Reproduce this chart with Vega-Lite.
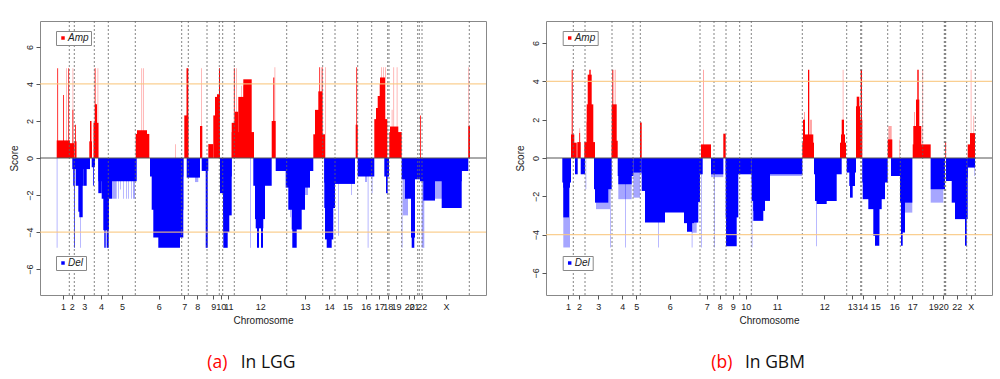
{
"$schema": "https://vega.github.io/schema/vega-lite/v6.json",
"padding": {"left": 8, "top": 20, "right": 0, "bottom": 0},
"config": {
 "font": "Liberation Sans",
 "view": {"stroke": "#888", "strokeWidth": 1},
 "axis": {"labelFont": "Liberation Sans", "labelFontSize": 9, "labelColor": "#222", "titleFont": "Liberation Sans", "titleFontSize": 10, "titleFontWeight": "normal", "titleColor": "#222", "tickColor": "#555", "domain": false, "grid": false},
 "axisX": {"labelOverlap": false},
 "legend": {"strokeColor": "#888", "padding": 2, "labelFont": "Liberation Sans", "labelFontSize": 10, "labelFontStyle": "italic", "labelColor": "#222", "symbolType": "square", "symbolSize": 12, "symbolStrokeWidth": 0, "labelOffset": 0, "fillColor": "white"}
},
"datasets": {
 "A": [
  {"k":"Amp","s":0,"a":26,"b":26.8,"v":4.85},{"k":"Amp","s":0,"a":32.5,"b":33.3,"v":4.85},{"k":"Amp","s":0,"a":57.5,"b":58.3,"v":4.85},{"k":"Amp","s":0,"a":101.3,"b":102.1,"v":4.85},{"k":"Amp","s":0,"a":103,"b":103.8,"v":4.85},{"k":"Amp","s":0,"a":135,"b":135.8,"v":0.74},{"k":"Amp","s":0,"a":161,"b":161.8,"v":4.85},{"k":"Amp","s":0,"a":196,"b":196.8,"v":4.85},{"k":"Amp","s":0,"a":201,"b":201.8,"v":3.9},{"k":"Amp","s":0,"a":203,"b":203.8,"v":3.9},{"k":"Amp","s":0,"a":205.5,"b":206.3,"v":4.2},{"k":"Amp","s":0,"a":234.5,"b":235.3,"v":4.9},{"k":"Amp","s":0,"a":285,"b":285.8,"v":4.9},{"k":"Amp","s":0,"a":339,"b":339.8,"v":4.0},{"k":"Amp","s":0,"a":341,"b":341.8,"v":4.9},{"k":"Amp","s":0,"a":343,"b":343.8,"v":4.9},{"k":"Amp","s":0,"a":345,"b":345.8,"v":4.9},{"k":"Amp","s":0,"a":351.7,"b":352.5,"v":2.6},{"k":"Amp","s":0,"a":353.3,"b":354.1,"v":4.9},{"k":"Amp","s":0,"a":356.7,"b":357.5,"v":4.9},{"k":"Amp","s":0,"a":428.3,"b":429.1,"v":4.9},
  {"k":"Amp","s":1,"a":16.7,"b":30,"v":0.95},{"k":"Amp","s":1,"a":17.3,"b":18.1,"v":4.85},{"k":"Amp","s":1,"a":23,"b":23.8,"v":3.4},{"k":"Amp","s":1,"a":28.3,"b":29.1,"v":4.85},{"k":"Amp","s":1,"a":30,"b":34.3,"v":0.8},{"k":"Amp","s":1,"a":32.5,"b":33.3,"v":2.6},{"k":"Amp","s":1,"a":34.5,"b":36.5,"v":0.9},{"k":"Amp","s":1,"a":35.2,"b":36,"v":1.8},{"k":"Amp","s":1,"a":49.3,"b":52,"v":0.9},{"k":"Amp","s":1,"a":50,"b":51.5,"v":2.0},{"k":"Amp","s":1,"a":53.5,"b":58.5,"v":1.9},{"k":"Amp","s":1,"a":55,"b":57,"v":2.9},{"k":"Amp","s":1,"a":54.7,"b":55.5,"v":4.85},{"k":"Amp","s":1,"a":95.7,"b":109.3,"v":1.3},{"k":"Amp","s":1,"a":97,"b":107,"v":1.5},{"k":"Amp","s":1,"a":144.3,"b":148.3,"v":2.3},{"k":"Amp","s":1,"a":146.5,"b":148.3,"v":4.85},{"k":"Amp","s":1,"a":160,"b":162.3,"v":1.73},{"k":"Amp","s":1,"a":168.3,"b":173.3,"v":0.75},{"k":"Amp","s":1,"a":173.3,"b":180,"v":2.3},{"k":"Amp","s":1,"a":175,"b":180,"v":3.3},{"k":"Amp","s":1,"a":177,"b":179,"v":3.45},{"k":"Amp","s":1,"a":179,"b":180,"v":4.85},{"k":"Amp","s":1,"a":191.7,"b":214,"v":1.4},{"k":"Amp","s":1,"a":191.7,"b":195,"v":1.9},{"k":"Amp","s":1,"a":195,"b":198.3,"v":2.5},{"k":"Amp","s":1,"a":198.3,"b":206.7,"v":3.3},{"k":"Amp","s":1,"a":203.3,"b":211.7,"v":4.25},{"k":"Amp","s":1,"a":193.9,"b":194.7,"v":4.85},{"k":"Amp","s":1,"a":231.7,"b":235.7,"v":2.0},{"k":"Amp","s":1,"a":233.3,"b":234.3,"v":4.35},{"k":"Amp","s":1,"a":273.3,"b":285,"v":1.28},{"k":"Amp","s":1,"a":275,"b":281.7,"v":2.6},{"k":"Amp","s":1,"a":278.3,"b":282.3,"v":3.6},{"k":"Amp","s":1,"a":279.3,"b":280.1,"v":4.9},{"k":"Amp","s":1,"a":281.7,"b":282.5,"v":4.9},{"k":"Amp","s":1,"a":315.7,"b":317.7,"v":1.8},{"k":"Amp","s":1,"a":316.3,"b":317.1,"v":4.9},{"k":"Amp","s":1,"a":334.3,"b":347.3,"v":2.1},{"k":"Amp","s":1,"a":336,"b":345,"v":2.7},{"k":"Amp","s":1,"a":337.7,"b":345,"v":3.35},{"k":"Amp","s":1,"a":340,"b":345,"v":4.35},{"k":"Amp","s":1,"a":349.3,"b":361.7,"v":1.4},{"k":"Amp","s":1,"a":350,"b":358.3,"v":1.7},{"k":"Amp","s":1,"a":380,"b":380.8,"v":2.3},{"k":"Amp","s":1,"a":428.3,"b":430,"v":1.73},
  {"k":"Del","s":1,"a":32.3,"b":50,"v":-0.6},{"k":"Del","s":1,"a":33,"b":33.8,"v":-1.5},{"k":"Del","s":1,"a":34.3,"b":35,"v":-4.85},{"k":"Del","s":1,"a":35.7,"b":43.3,"v":-1.5},{"k":"Del","s":1,"a":38.3,"b":41.7,"v":-2.9},{"k":"Del","s":1,"a":39.3,"b":42.7,"v":-3.2},{"k":"Del","s":1,"a":43.3,"b":46.7,"v":-1.5},{"k":"Del","s":1,"a":51.7,"b":55,"v":-0.5},{"k":"Del","s":1,"a":53,"b":53.8,"v":-1.5},{"k":"Del","s":1,"a":58.3,"b":96.7,"v":-1.25},{"k":"Del","s":1,"a":58.3,"b":61.7,"v":-1.9},{"k":"Del","s":1,"a":61.7,"b":69,"v":-2.2},{"k":"Del","s":1,"a":63.3,"b":69,"v":-3.9},{"k":"Del","s":1,"a":64.3,"b":65.7,"v":-4.85},{"k":"Del","s":1,"a":66.7,"b":68.7,"v":-4.85},{"k":"Del","s":1,"a":69,"b":72,"v":-2.2},{"k":"Del","s":1,"a":110,"b":143.3,"v":-1.0},{"k":"Del","s":1,"a":111.7,"b":143.3,"v":-2.8},{"k":"Del","s":1,"a":113.3,"b":143.3,"v":-4.3},{"k":"Del","s":1,"a":118.3,"b":140,"v":-4.85},{"k":"Del","s":1,"a":146.7,"b":160,"v":-1.06},{"k":"Del","s":1,"a":161.7,"b":168.3,"v":-0.7},{"k":"Del","s":1,"a":165.7,"b":167.7,"v":-4.85},{"k":"Del","s":1,"a":180,"b":191.7,"v":-1.0},{"k":"Del","s":1,"a":180,"b":183.3,"v":-1.9},{"k":"Del","s":1,"a":183.3,"b":191.7,"v":-3.1},{"k":"Del","s":1,"a":183.3,"b":189.3,"v":-4.0},{"k":"Del","s":1,"a":183.3,"b":187.7,"v":-4.85},{"k":"Del","s":1,"a":213.3,"b":231.7,"v":-1.5},{"k":"Del","s":1,"a":215,"b":225,"v":-3.3},{"k":"Del","s":1,"a":215.7,"b":223.3,"v":-3.8},{"k":"Del","s":1,"a":217,"b":219,"v":-4.85},{"k":"Del","s":1,"a":221,"b":223,"v":-4.85},{"k":"Del","s":1,"a":235.7,"b":273.3,"v":-0.7},{"k":"Del","s":1,"a":245.7,"b":270,"v":-1.6},{"k":"Del","s":1,"a":248.3,"b":265,"v":-2.8},{"k":"Del","s":1,"a":251.7,"b":261.7,"v":-3.86},{"k":"Del","s":1,"a":252.3,"b":256.7,"v":-4.85},{"k":"Del","s":1,"a":284.3,"b":300,"v":-1.33},{"k":"Del","s":1,"a":284.3,"b":295,"v":-2.7},{"k":"Del","s":1,"a":285,"b":293.3,"v":-4.4},{"k":"Del","s":1,"a":286.7,"b":291.7,"v":-4.85},{"k":"Del","s":1,"a":295,"b":315,"v":-1.4},{"k":"Del","s":1,"a":317.7,"b":334.3,"v":-1.0},{"k":"Del","s":1,"a":344.3,"b":349,"v":-1.0},{"k":"Del","s":1,"a":346,"b":347.7,"v":-1.9},{"k":"Del","s":1,"a":361.7,"b":380,"v":-1.15},{"k":"Del","s":1,"a":365,"b":375,"v":-2.2},{"k":"Del","s":1,"a":371,"b":375,"v":-4.3},{"k":"Del","s":1,"a":371.7,"b":374.3,"v":-4.85},{"k":"Del","s":1,"a":380,"b":428.3,"v":-0.7},{"k":"Del","s":1,"a":380,"b":421.7,"v":-1.25},{"k":"Del","s":1,"a":383.3,"b":395,"v":-2.3},{"k":"Del","s":1,"a":401.7,"b":421.7,"v":-2.7},
  {"k":"Del","s":0,"a":16.7,"b":17.5,"v":-4.85},{"k":"Del","s":0,"a":40,"b":40.8,"v":-4.85},{"k":"Del","s":0,"a":72,"b":76.7,"v":-2.2},{"k":"Del","s":0,"a":78,"b":78.8,"v":-2.2},{"k":"Del","s":0,"a":80,"b":80.8,"v":-1.7},{"k":"Del","s":0,"a":83,"b":83.8,"v":-2.2},{"k":"Del","s":0,"a":86,"b":86.8,"v":-2.2},{"k":"Del","s":0,"a":88,"b":88.8,"v":-2.2},{"k":"Del","s":0,"a":91,"b":91.8,"v":-2.2},{"k":"Del","s":0,"a":93,"b":95,"v":-2.2},{"k":"Del","s":0,"a":155,"b":158.3,"v":-1.3},{"k":"Del","s":0,"a":210,"b":210.8,"v":-4.85},{"k":"Del","s":0,"a":250,"b":250.8,"v":-3.2},{"k":"Del","s":0,"a":262,"b":268,"v":-2.0},{"k":"Del","s":0,"a":298,"b":298.8,"v":-4.2},{"k":"Del","s":0,"a":311,"b":311.8,"v":-2.0},{"k":"Del","s":0,"a":325,"b":327,"v":-1.3},{"k":"Del","s":0,"a":327.7,"b":328.5,"v":-4.85},{"k":"Del","s":0,"a":331.7,"b":332.5,"v":-1.9},{"k":"Del","s":0,"a":363,"b":368,"v":-3.1},{"k":"Del","s":0,"a":361.7,"b":362.5,"v":-4.85},{"k":"Del","s":0,"a":381.7,"b":384.3,"v":-4.85},{"k":"Del","s":0,"a":395,"b":405,"v":-2.2}
 ],
 "B": [
  {"k":"Amp","s":0,"a":33.3,"b":34.1,"v":1.55},{"k":"Amp","s":0,"a":68.7,"b":69.7,"v":4.6},{"k":"Amp","s":0,"a":157,"b":158,"v":4.6},{"k":"Amp","s":0,"a":258,"b":259,"v":2.4},{"k":"Amp","s":0,"a":264,"b":266,"v":2.0},{"k":"Amp","s":0,"a":296.7,"b":297.5,"v":4.6},{"k":"Amp","s":0,"a":342.3,"b":345.7,"v":1.67},{"k":"Amp","s":0,"a":353.3,"b":354.1,"v":0.97},{"k":"Amp","s":0,"a":376.3,"b":377.1,"v":4.6},{"k":"Amp","s":0,"a":368,"b":369,"v":2.4},{"k":"Amp","s":0,"a":427.3,"b":428.1,"v":2.2},{"k":"Amp","s":0,"a":424.7,"b":425.5,"v":4.6},
  {"k":"Amp","s":1,"a":25,"b":30.7,"v":0.8},{"k":"Amp","s":1,"a":25,"b":28.3,"v":1.23},{"k":"Amp","s":1,"a":25.7,"b":26.7,"v":4.6},{"k":"Amp","s":1,"a":31.3,"b":34.7,"v":0.83},{"k":"Amp","s":1,"a":33.3,"b":34.1,"v":1.3},{"k":"Amp","s":1,"a":38.3,"b":49,"v":0.83},{"k":"Amp","s":1,"a":40.7,"b":45.7,"v":1.9},{"k":"Amp","s":1,"a":40.7,"b":47.3,"v":2.8},{"k":"Amp","s":1,"a":41.7,"b":45.7,"v":4.35},{"k":"Amp","s":1,"a":43.3,"b":44.7,"v":4.6},{"k":"Amp","s":1,"a":65.7,"b":71.7,"v":0.9},{"k":"Amp","s":1,"a":65.7,"b":70.7,"v":2.8},{"k":"Amp","s":1,"a":66.3,"b":67.3,"v":4.6},{"k":"Amp","s":1,"a":94,"b":95.7,"v":1.85},{"k":"Amp","s":1,"a":155,"b":165,"v":0.71},{"k":"Amp","s":1,"a":177.3,"b":179.7,"v":1.27},{"k":"Amp","s":1,"a":256.3,"b":268,"v":0.8},{"k":"Amp","s":1,"a":257.3,"b":267.3,"v":1.23},{"k":"Amp","s":1,"a":257,"b":259,"v":2.0},{"k":"Amp","s":1,"a":262,"b":263.3,"v":4.6},{"k":"Amp","s":1,"a":294,"b":300,"v":0.8},{"k":"Amp","s":1,"a":295,"b":299,"v":1.23},{"k":"Amp","s":1,"a":295.7,"b":298,"v":2.0},{"k":"Amp","s":1,"a":310,"b":316.3,"v":2.0},{"k":"Amp","s":1,"a":310,"b":314,"v":2.7},{"k":"Amp","s":1,"a":310.7,"b":313.3,"v":3.2},{"k":"Amp","s":1,"a":314.7,"b":316,"v":4.6},{"k":"Amp","s":1,"a":341.7,"b":346.3,"v":0.97},{"k":"Amp","s":1,"a":366.7,"b":384.7,"v":0.71},{"k":"Amp","s":1,"a":367.3,"b":375.3,"v":1.67},{"k":"Amp","s":1,"a":370,"b":373.3,"v":3.05},{"k":"Amp","s":1,"a":371.3,"b":372.7,"v":4.6},{"k":"Amp","s":1,"a":399.3,"b":400.1,"v":0.83},{"k":"Amp","s":1,"a":421.7,"b":429,"v":0.71},{"k":"Amp","s":1,"a":424,"b":429,"v":1.3},
  {"k":"Del","s":1,"a":16.3,"b":25,"v":-1.28},{"k":"Del","s":1,"a":17.3,"b":24,"v":-1.55},{"k":"Del","s":1,"a":17.3,"b":23,"v":-3.1},{"k":"Del","s":1,"a":29,"b":31.7,"v":-0.85},{"k":"Del","s":1,"a":34.7,"b":39,"v":-0.85},{"k":"Del","s":1,"a":48,"b":65.7,"v":-1.63},{"k":"Del","s":1,"a":49,"b":62.3,"v":-2.33},{"k":"Del","s":1,"a":71.7,"b":87.3,"v":-0.94},{"k":"Del","s":1,"a":72.3,"b":85.7,"v":-1.37},{"k":"Del","s":1,"a":87.3,"b":95.7,"v":-0.76},{"k":"Del","s":1,"a":95.7,"b":149,"v":-0.85},{"k":"Del","s":1,"a":95.7,"b":99,"v":-1.72},{"k":"Del","s":1,"a":99,"b":149,"v":-2.24},{"k":"Del","s":1,"a":99,"b":119,"v":-3.37},{"k":"Del","s":1,"a":119,"b":149,"v":-2.85},{"k":"Del","s":1,"a":138,"b":148,"v":-3.4},{"k":"Del","s":1,"a":141,"b":146,"v":-3.85},{"k":"Del","s":1,"a":144,"b":156.7,"v":-0.85},{"k":"Del","s":1,"a":144,"b":154,"v":-2.3},{"k":"Del","s":1,"a":144,"b":152.3,"v":-3.37},{"k":"Del","s":1,"a":165,"b":177.3,"v":-0.85},{"k":"Del","s":1,"a":179.7,"b":205.7,"v":-0.85},{"k":"Del","s":1,"a":179.7,"b":192.3,"v":-3.1},{"k":"Del","s":1,"a":180,"b":190.7,"v":-4.6},{"k":"Del","s":1,"a":205.7,"b":256.3,"v":-0.85},{"k":"Del","s":1,"a":205.7,"b":224,"v":-1.2},{"k":"Del","s":1,"a":205.7,"b":224,"v":-2.24},{"k":"Del","s":1,"a":207.3,"b":219,"v":-2.76},{"k":"Del","s":1,"a":207.3,"b":217.3,"v":-3.28},{"k":"Del","s":1,"a":268,"b":295.7,"v":-0.85},{"k":"Del","s":1,"a":269,"b":290.7,"v":-2.24},{"k":"Del","s":1,"a":270.7,"b":280.7,"v":-2.4},{"k":"Del","s":1,"a":300.7,"b":310,"v":-0.76},{"k":"Del","s":1,"a":303.3,"b":309,"v":-1.46},{"k":"Del","s":1,"a":304,"b":306.7,"v":-2.07},{"k":"Del","s":1,"a":316.3,"b":341.7,"v":-1.28},{"k":"Del","s":1,"a":316.7,"b":339,"v":-2.15},{"k":"Del","s":1,"a":322.3,"b":335.7,"v":-2.67},{"k":"Del","s":1,"a":327.3,"b":333.3,"v":-4.06},{"k":"Del","s":1,"a":329,"b":333.3,"v":-4.58},{"k":"Del","s":1,"a":345,"b":354,"v":-0.94},{"k":"Del","s":1,"a":354,"b":366.3,"v":-2.33},{"k":"Del","s":1,"a":355,"b":359,"v":-3.89},{"k":"Del","s":1,"a":355,"b":356.7,"v":-4.58},{"k":"Del","s":1,"a":384.7,"b":399,"v":-1.63},{"k":"Del","s":1,"a":400,"b":421.7,"v":-1.02},{"k":"Del","s":1,"a":400,"b":407.3,"v":-1.2},{"k":"Del","s":1,"a":405.7,"b":420,"v":-2.33},{"k":"Del","s":1,"a":409,"b":421.7,"v":-3.19},{"k":"Del","s":1,"a":419,"b":420.7,"v":-4.58},{"k":"Del","s":1,"a":421.7,"b":429,"v":-0.5},
  {"k":"Del","s":0,"a":17.3,"b":24,"v":-4.67},{"k":"Del","s":0,"a":39.5,"b":40.3,"v":-1.63},{"k":"Del","s":0,"a":50,"b":64,"v":-2.67},{"k":"Del","s":0,"a":64,"b":64.8,"v":-4.67},{"k":"Del","s":0,"a":72.3,"b":85.7,"v":-2.15},{"k":"Del","s":0,"a":79,"b":79.8,"v":-4.67},{"k":"Del","s":0,"a":87.3,"b":94,"v":-2.07},{"k":"Del","s":0,"a":112,"b":112.8,"v":-4.67},{"k":"Del","s":0,"a":145.7,"b":146.5,"v":-4.67},{"k":"Del","s":0,"a":145.7,"b":150.7,"v":-3.9},{"k":"Del","s":0,"a":155,"b":155.8,"v":-4.67},{"k":"Del","s":0,"a":165,"b":177.3,"v":-1.0},{"k":"Del","s":0,"a":168,"b":168.8,"v":-4.67},{"k":"Del","s":0,"a":205.7,"b":206.5,"v":-4.67},{"k":"Del","s":0,"a":224,"b":256.3,"v":-0.94},{"k":"Del","s":0,"a":270,"b":270.8,"v":-4.6},{"k":"Del","s":0,"a":359,"b":366.3,"v":-2.85},{"k":"Del","s":0,"a":384.7,"b":397.3,"v":-2.33},{"k":"Del","s":0,"a":428.3,"b":429.1,"v":-0.94}
 ],
 "bA": [{"x":29.3},{"x":34.3},{"x":54.3},{"x":68.3},{"x":95.3},{"x":141.7},{"x":148.3},{"x":167},{"x":179.3},{"x":182.7},{"x":194.3},{"x":246.7},{"x":282.7},{"x":295},{"x":317.7},{"x":331.7},{"x":347.7},{"x":349},{"x":361.7},{"x":377.7},{"x":379.3},{"x":382},{"x":429.3}],
 "bB": [{"x":27.3},{"x":39},{"x":66},{"x":87},{"x":94.3},{"x":154},{"x":168},{"x":180},{"x":193.7},{"x":205.3},{"x":256.3},{"x":300.7},{"x":314.7},{"x":315.7},{"x":341.7},{"x":354.3},{"x":376.7},{"x":398.3},{"x":399},{"x":399.7},{"x":420.7},{"x":429.3}]
},
"columns": 2,
"bounds": "flush",
"spacing": {"column": 60, "row": 58},
"resolve": {"scale": {"color": "independent"}},
"concat": [
   {
    "width": 446,
    "height": 274,
    "resolve": {"scale": {"color": "independent"}},
    "layer": [
     {"data": {"name": "A"}, "transform": [{"filter": "datum.s == 0"}], "mark": {"type": "rect", "opacity": 0.35},
      "encoding": {
       "x": {"field": "a", "type": "quantitative", "scale": {"domain": [0, 446], "nice": false, "zero": false},
        "axis": {"title": "Chromosome", "values": [23,31.7,44.3,61,82,118.7,144.3,157.3,173.3,180.7,188.3,220.3,265,289.3,307.3,325.7,339.3,347.7,356,369.3,374,381.7,406], "tickCount": 100,
         "labelExpr": "['1','2','3','4','5','6','7','8','9','10','11','12','13','14','15','16','17','18','19','20','21','22','X'][indexof([23,31.7,44.3,61,82,118.7,144.3,157.3,173.3,180.7,188.3,220.3,265,289.3,307.3,325.7,339.3,347.7,356,369.3,374,381.7,406], datum.value)]",
         "labelOverlap": false, "labelFlush": false, "labelBound": false, "tickSize": 4, "labelPadding": 3, "titlePadding": 4}},
       "x2": {"field": "b"},
       "y": {"field": "v", "type": "quantitative", "scale": {"domain": [-7.4, 7.4], "nice": false, "zero": false},
        "axis": {"title": "Score", "values": [-6,-4,-2,0,2,4,6], "tickCount": 20, "labelAngle": 270, "labelAlign": "center", "labelBaseline": "bottom", "tickSize": 4, "labelPadding": 2, "titlePadding": 6}},
       "y2": {"datum": 0},
       "color": {"field": "k", "type": "nominal", "scale": {"domain": ["Amp", "Del"], "range": ["#ff0000", "#0000ff"]}, "legend": null}
      }},
     {"data": {"name": "A"}, "transform": [{"filter": "datum.s == 1 && datum.k == 'Amp'"}], "mark": {"type": "rect"},
      "encoding": {
       "x": {"field": "a", "type": "quantitative"},
       "x2": {"field": "b"},
       "y": {"field": "v", "type": "quantitative"},
       "y2": {"datum": 0},
       "color": {"field": "k", "type": "nominal", "scale": {"domain": ["Amp"], "range": ["#ff0000"]}, "legend": {"orient": "none", "legendX": 16, "legendY": 10, "title": null}}
      }},
     {"data": {"name": "A"}, "transform": [{"filter": "datum.s == 1 && datum.k == 'Del'"}], "mark": {"type": "rect"},
      "encoding": {
       "x": {"field": "a", "type": "quantitative"},
       "x2": {"field": "b"},
       "y": {"field": "v", "type": "quantitative"},
       "y2": {"datum": 0},
       "color": {"field": "k", "type": "nominal", "scale": {"domain": ["Del"], "range": ["#0000ff"]}, "legend": {"orient": "none", "legendX": 16, "legendY": 235, "title": null}}
      }},
     {"data": {"name": "bA"}, "mark": {"type": "rule", "strokeDash": [2, 2], "color": "#666", "strokeWidth": 0.8},
      "encoding": {"x": {"field": "x", "type": "quantitative"}}},
     {"data": {"values": [{}]}, "mark": {"type": "rule", "color": "#f9c77e", "strokeWidth": 1.3, "opacity": 0.85},
      "encoding": {"y": {"datum": 4, "type": "quantitative"}}},
     {"data": {"values": [{}]}, "mark": {"type": "rule", "color": "#f9c77e", "strokeWidth": 1.3, "opacity": 0.85},
      "encoding": {"y": {"datum": -4, "type": "quantitative"}}},
     {"data": {"values": [{}]}, "mark": {"type": "rule", "color": "#555", "strokeWidth": 1},
      "encoding": {"y": {"datum": 0, "type": "quantitative"}}}
    ]
   },
   {
    "width": 446,
    "height": 274,
    "resolve": {"scale": {"color": "independent"}},
    "layer": [
     {"data": {"name": "B"}, "transform": [{"filter": "datum.s == 0"}], "mark": {"type": "rect", "opacity": 0.35},
      "encoding": {
       "x": {"field": "a", "type": "quantitative", "scale": {"domain": [0, 446], "nice": false, "zero": false},
        "axis": {"title": "Chromosome", "values": [22,33,52.3,76.3,90.3,123.7,160.7,173.7,186.7,199.7,231,278.3,306.3,316.7,329.3,348.3,366.3,387.3,397.3,410.7,424.7], "tickCount": 100,
         "labelExpr": "['1','2','3','4','5','6','7','8','9','10','11','12','13','14','15','16','17','19','20','22','X'][indexof([22,33,52.3,76.3,90.3,123.7,160.7,173.7,186.7,199.7,231,278.3,306.3,316.7,329.3,348.3,366.3,387.3,397.3,410.7,424.7], datum.value)]",
         "labelOverlap": false, "labelFlush": false, "labelBound": false, "tickSize": 4, "labelPadding": 3, "titlePadding": 4}},
       "x2": {"field": "b"},
       "y": {"field": "v", "type": "quantitative", "scale": {"domain": [-7.15, 7.15], "nice": false, "zero": false},
        "axis": {"title": "Score", "values": [-6,-4,-2,0,2,4,6], "tickCount": 20, "labelAngle": 270, "labelAlign": "center", "labelBaseline": "bottom", "tickSize": 4, "labelPadding": 2, "titlePadding": 6}},
       "y2": {"datum": 0},
       "color": {"field": "k", "type": "nominal", "scale": {"domain": ["Amp", "Del"], "range": ["#ff0000", "#0000ff"]}, "legend": null}
      }},
     {"data": {"name": "B"}, "transform": [{"filter": "datum.s == 1 && datum.k == 'Amp'"}], "mark": {"type": "rect"},
      "encoding": {
       "x": {"field": "a", "type": "quantitative"},
       "x2": {"field": "b"},
       "y": {"field": "v", "type": "quantitative"},
       "y2": {"datum": 0},
       "color": {"field": "k", "type": "nominal", "scale": {"domain": ["Amp"], "range": ["#ff0000"]}, "legend": {"orient": "none", "legendX": 16.7, "legendY": 10, "title": null}}
      }},
     {"data": {"name": "B"}, "transform": [{"filter": "datum.s == 1 && datum.k == 'Del'"}], "mark": {"type": "rect"},
      "encoding": {
       "x": {"field": "a", "type": "quantitative"},
       "x2": {"field": "b"},
       "y": {"field": "v", "type": "quantitative"},
       "y2": {"datum": 0},
       "color": {"field": "k", "type": "nominal", "scale": {"domain": ["Del"], "range": ["#0000ff"]}, "legend": {"orient": "none", "legendX": 16.7, "legendY": 235, "title": null}}
      }},
     {"data": {"name": "bB"}, "mark": {"type": "rule", "strokeDash": [2, 2], "color": "#666", "strokeWidth": 0.8},
      "encoding": {"x": {"field": "x", "type": "quantitative"}}},
     {"data": {"values": [{}]}, "mark": {"type": "rule", "color": "#f9c77e", "strokeWidth": 1.3, "opacity": 0.85},
      "encoding": {"y": {"datum": 4, "type": "quantitative"}}},
     {"data": {"values": [{}]}, "mark": {"type": "rule", "color": "#f9c77e", "strokeWidth": 1.3, "opacity": 0.85},
      "encoding": {"y": {"datum": -4, "type": "quantitative"}}},
     {"data": {"values": [{}]}, "mark": {"type": "rule", "color": "#555", "strokeWidth": 1},
      "encoding": {"y": {"datum": 0, "type": "quantitative"}}}
    ]
   },
   {
    "width": 446, "height": 20, "view": {"stroke": null},
    "data": {"values": [{"p": "a", "t": "(a)"}, {"p": "a", "t": "In LGG"}]},
    "layer": [
     {"transform": [{"filter": "datum.t == '(a)'"}],
      "mark": {"type": "text", "font": "Open Sans", "fontSize": 17.5, "align": "right", "dx": -6.7, "color": "#ff0000"},
      "encoding": {"x": {"field": "p", "type": "nominal", "scale": {"type": "point", "align": 0.435}, "axis": null}, "text": {"field": "t"}}},
     {"transform": [{"filter": "datum.t == 'In LGG'"}],
      "mark": {"type": "text", "font": "Open Sans", "fontSize": 17.5, "align": "left", "dx": 6.7, "color": "#111111"},
      "encoding": {"x": {"field": "p", "type": "nominal", "scale": {"type": "point", "align": 0.435}, "axis": null}, "text": {"field": "t"}}}
    ]
   },
   {
    "width": 446, "height": 20, "view": {"stroke": null},
    "data": {"values": [{"p": "b", "t": "(b)"}, {"p": "b", "t": "In GBM"}]},
    "layer": [
     {"transform": [{"filter": "datum.t == '(b)'"}],
      "mark": {"type": "text", "font": "Open Sans", "fontSize": 17.5, "align": "right", "dx": -6.3, "color": "#ff0000"},
      "encoding": {"x": {"field": "p", "type": "nominal", "scale": {"type": "point", "align": 0.432}, "axis": null}, "text": {"field": "t"}}},
     {"transform": [{"filter": "datum.t == 'In GBM'"}],
      "mark": {"type": "text", "font": "Open Sans", "fontSize": 17.5, "align": "left", "dx": 6.3, "color": "#111111"},
      "encoding": {"x": {"field": "p", "type": "nominal", "scale": {"type": "point", "align": 0.432}, "axis": null}, "text": {"field": "t"}}}
    ]
   }
]
}
